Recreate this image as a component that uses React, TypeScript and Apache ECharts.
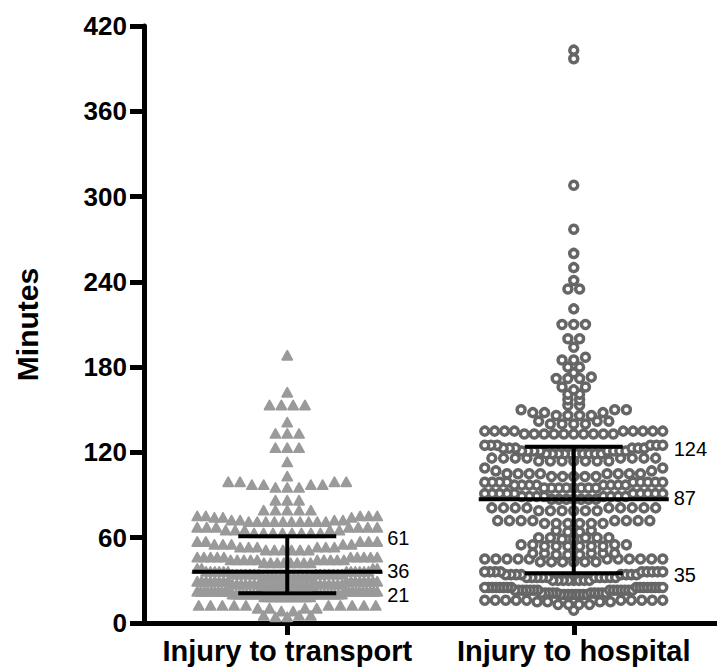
import React, { useEffect, useRef } from 'react';
import * as echarts from 'echarts';

// ---- data ----
const categories = ['Injury to transport', 'Injury to hospital'];

// Injury to transport: minute values and how many patients had each
const transportValues = [4, 5, 8, 10, 12, 18, 20, 22, 26, 27, 29, 32, 34, 36, 38, 42, 44, 46, 51, 53, 55, 57, 63, 65, 67, 71, 72, 74, 75, 79, 86, 95, 97, 99, 103, 113, 123, 133, 141, 153, 162, 188];
const transportCounts = [2, 3, 2, 4, 10, 14, 18, 20, 12, 14, 16, 12, 14, 12, 4, 8, 10, 10, 6, 6, 5, 5, 8, 5, 7, 10, 4, 3, 5, 5, 3, 3, 4, 4, 1, 1, 3, 3, 1, 4, 1, 1];

// Injury to hospital
const hospitalValues = [9, 13, 15, 16, 20, 21, 23, 25, 30, 32, 34, 36, 43, 45, 48, 49, 54, 55, 59, 60, 64, 65, 70, 72, 79, 81, 87, 89, 91, 95, 97, 99, 103, 105, 107, 109, 114, 116, 119, 121, 123, 125, 133, 135, 140, 142, 146, 148, 150, 153, 157, 161, 164, 166, 172, 173, 176, 180, 185, 187, 194, 200, 210, 221, 235, 241, 250, 260, 277, 308, 397, 403];
const hospitalCounts = [1, 4, 4, 10, 8, 10, 14, 16, 8, 10, 8, 9, 6, 11, 3, 5, 6, 4, 2, 5, 2, 2, 6, 8, 6, 9, 7, 8, 10, 8, 8, 9, 5, 8, 2, 2, 7, 8, 10, 8, 6, 6, 10, 9, 4, 3, 4, 3, 3, 2, 2, 2, 1, 2, 3, 1, 1, 2, 2, 1, 1, 2, 3, 1, 2, 1, 1, 1, 1, 1, 1, 1];

// Median and interquartile range shown on the chart
const q1Values = [21, 35];
const medianValues = [36, 87];
const q3Values = [61, 124];

const yMin = 0;
const yMax = 420;
const yInterval = 60;

// ---- layout helpers ----
const FONT = "'Liberation Sans', Arial, Helvetica, sans-serif";

function expand(values: number[], counts: number[]): number[] {
  const out: number[] = [];
  values.forEach((v, i) => {
    for (let k = 0; k < counts[i]; k++) out.push(v);
  });
  return out;
}

// Prism-like swarm: group nearby values into rows, spread each row horizontally
// (lowest values in the middle), compressing rows that exceed the max width.
function swarm(vals: number[], spacing: number, maxHalf: number): [number, number][] {
  const sorted = [...vals].sort((a, b) => a - b);
  const rows: number[][] = [];
  let cur: number[] = [];
  for (const v of sorted) {
    if (cur.length && v - cur[cur.length - 1] >= 3) {
      rows.push(cur);
      cur = [];
    }
    cur.push(v);
  }
  if (cur.length) rows.push(cur);
  const pts: [number, number][] = [];
  for (const row of rows) {
    const n = row.length;
    const s = n > 1 ? Math.min(spacing, (2 * maxHalf) / (n - 1)) : 0;
    const slots = Array.from({ length: n }, (_, i) => (i - (n - 1) / 2) * s);
    slots.sort((a, b) => Math.abs(a) - Math.abs(b) || a - b);
    row.forEach((v, i) => pts.push([v, slots[i]]));
  }
  return pts;
}

export default function App() {
  const ref = useRef<HTMLDivElement>(null);

  useEffect(() => {
    if (!ref.current) return;
    const chart = echarts.init(ref.current, undefined, { renderer: 'svg' });

    const tPts = swarm(expand(transportValues, transportCounts), 11.8, 90);
    const hPts = swarm(expand(hospitalValues, hospitalCounts), 11.7, 89);

    const statsData = categories.map((_, i) => [i, q1Values[i], medianValues[i], q3Values[i]]);

    const option: any = {
      animation: false,
      backgroundColor: '#fff',
      grid: { left: 144, right: -3, top: 26, bottom: 47, containLabel: false },
      xAxis: {
        type: 'category',
        data: categories,
        axisLine: { show: true, lineStyle: { color: '#000', width: 5 } },
        axisTick: { show: true, alignWithLabel: true, length: 12, lineStyle: { color: '#000', width: 5 } },
        axisLabel: { color: '#000', fontSize: 29, fontWeight: 'bold', fontFamily: FONT, margin: 13, interval: 0, hideOverlap: false },
        splitLine: { show: false },
      },
      yAxis: {
        type: 'value',
        min: yMin,
        max: yMax,
        interval: yInterval,
        name: 'Minutes',
        nameLocation: 'middle',
        nameGap: 102,
        nameTextStyle: { color: '#000', fontSize: 30, fontWeight: 'bold', fontFamily: FONT },
        axisLine: { show: true, lineStyle: { color: '#000', width: 5 } },
        axisTick: { show: true, inside: false, length: 14, lineStyle: { color: '#000', width: 5 } },
        axisLabel: { color: '#000', fontSize: 26, fontWeight: 'bold', fontFamily: FONT, margin: 17 },
        splitLine: { show: false },
      },
      series: [
        {
          type: 'custom',
          name: 'transport',
          data: tPts.map(([v, dx]) => [0, v, dx]),
          encode: { x: 0, y: 1 },
          z: 2,
          renderItem: (params: any, api: any) => {
            const c = api.coord([api.value(0), api.value(1)]);
            const x = c[0] + api.value(2);
            const y = c[1];
            return {
              type: 'polygon',
              shape: { points: [[x, y - 5], [x + 5, y + 4], [x - 5, y + 4]] },
              style: { fill: '#9a9a9a', stroke: '#9a9a9a', lineWidth: 1.8, lineJoin: 'round' },
            };
          },
        },
        {
          type: 'custom',
          name: 'hospital',
          data: hPts.map(([v, dx]) => [1, v, dx]),
          encode: { x: 0, y: 1 },
          z: 2,
          renderItem: (params: any, api: any) => {
            const c = api.coord([api.value(0), api.value(1)]);
            return {
              type: 'circle',
              shape: { cx: c[0] + api.value(2), cy: c[1], r: 4 },
              style: { fill: '#fff', stroke: '#666666', lineWidth: 3.5 },
            };
          },
        },
        {
          type: 'custom',
          name: 'stats',
          data: statsData,
          encode: { x: 0, y: [1, 2, 3] },
          z: 5,
          renderItem: (params: any, api: any) => {
            const cat = api.value(0);
            const q1 = api.value(1);
            const med = api.value(2);
            const q3 = api.value(3);
            const p1 = api.coord([cat, q1]);
            const pm = api.coord([cat, med]);
            const p3 = api.coord([cat, q3]);
            const x = p1[0];
            const ls = { stroke: '#000', lineWidth: 4 };
            const lbl = (y: number, t: number) => ({
              type: 'text',
              x: x + 100,
              y,
              style: { text: String(t), fill: '#000', fontSize: 20, lineHeight: 20, fontFamily: FONT, align: 'left', verticalAlign: 'middle' },
            });
            return {
              type: 'group',
              children: [
                { type: 'line', shape: { x1: x, y1: p1[1], x2: x, y2: p3[1] }, style: ls },
                { type: 'line', shape: { x1: x - 95, y1: pm[1], x2: x + 95, y2: pm[1] }, style: ls },
                { type: 'line', shape: { x1: x - 49, y1: p1[1], x2: x + 49, y2: p1[1] }, style: ls },
                { type: 'line', shape: { x1: x - 49, y1: p3[1], x2: x + 49, y2: p3[1] }, style: ls },
                lbl(p3[1] + 2, q3),
                lbl(pm[1] - 1, med),
                lbl(p1[1] + 1.5, q1),
              ],
            };
          },
        },
      ],
    };

    chart.setOption(option);
    return () => chart.dispose();
  }, []);

  return <div ref={ref} style={{ position: 'absolute', left: 0, top: 0, width: 717, height: 670, background: '#fff' }} />;
}
